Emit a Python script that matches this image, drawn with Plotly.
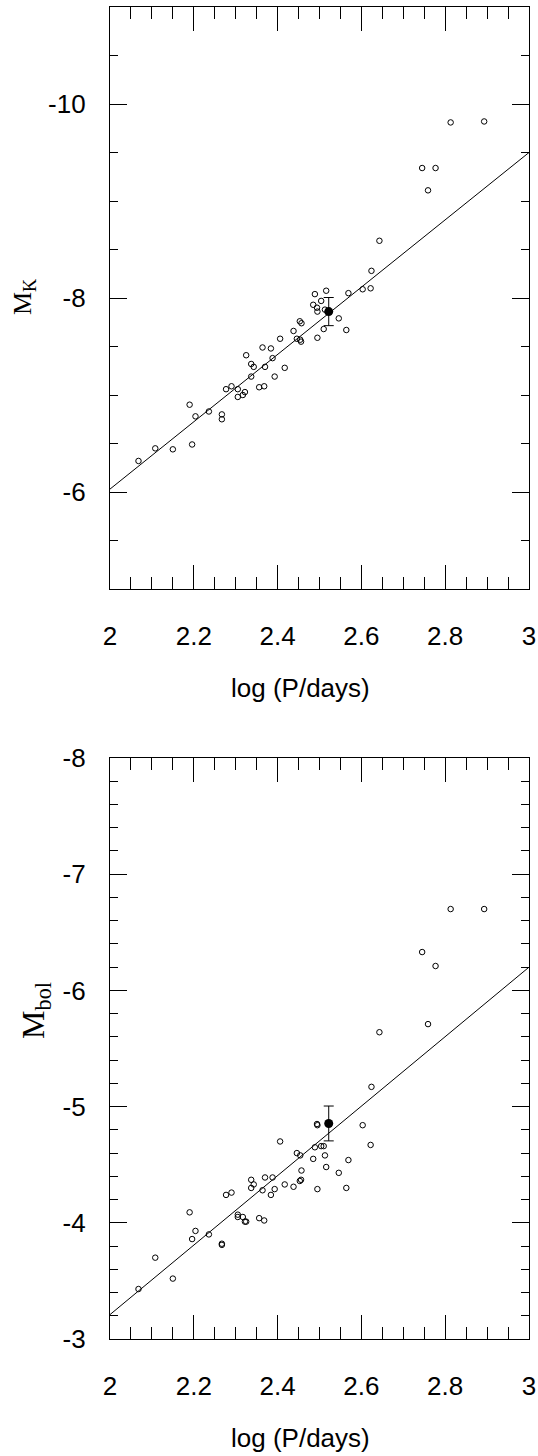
import plotly.graph_objects as go

# ---------------- data ----------------
log_p = [2.068, 2.108, 2.150, 2.196, 2.190, 2.204, 2.236, 2.267, 2.267, 2.277,
         2.290, 2.305, 2.305, 2.317, 2.322, 2.325, 2.337, 2.337, 2.343, 2.356,
         2.368, 2.364, 2.370, 2.384, 2.388, 2.393, 2.406, 2.417, 2.438, 2.446,
         2.453, 2.454, 2.456, 2.457, 2.485, 2.489, 2.494, 2.495, 2.495, 2.504,
         2.510, 2.513, 2.516, 2.546, 2.564, 2.569, 2.603, 2.622, 2.624, 2.643,
         2.745, 2.759, 2.777, 2.813, 2.893]
m_k = [-6.32, -6.45, -6.44, -6.49, -6.90, -6.78, -6.83, -6.80, -6.75, -7.06,
       -7.09, -7.06, -6.98, -7.00, -7.03, -7.41, -7.32, -7.19, -7.29, -7.08,
       -7.09, -7.49, -7.29, -7.48, -7.38, -7.19, -7.58, -7.28, -7.66, -7.58,
       -7.76, -7.57, -7.55, -7.74, -7.93, -8.04, -7.90, -7.86, -7.59, -7.97,
       -7.68, -7.88, -8.075, -7.79, -7.67, -8.05, -8.09, -8.10, -8.28, -8.59,
       -9.34, -9.11, -9.34, -9.81, -9.82]
m_bol = [-3.43, -3.70, -3.52, -3.86, -4.09, -3.93, -3.90, -3.82, -3.81, -4.24,
         -4.26, -4.07, -4.05, -4.05, -4.01, -4.01, -4.37, -4.30, -4.33, -4.04,
         -4.02, -4.28, -4.39, -4.24, -4.39, -4.29, -4.70, -4.33, -4.31, -4.60,
         -4.36, -4.58, -4.37, -4.45, -4.55, -4.65, -4.85, -4.84, -4.29, -4.66,
         -4.66, -4.58, -4.48, -4.43, -4.30, -4.54, -4.84, -4.67, -5.17, -5.64,
         -6.33, -5.71, -6.21, -6.70, -6.70]

# highlighted star with error bar
star_logp = [2.522]
star_mk = [-7.86]
star_mk_err = [0.145]
star_mbol = [-4.855]
star_mbol_err = [0.15]

# fitted period-luminosity relations: M = a + b * logP
fit_x = [2.0, 3.0]
fit_k = (0.91, -3.47)
fit_bol = (2.77, -2.99)

x_tick_vals = [2.0, 2.2, 2.4, 2.6, 2.8, 3.0]
x_tick_text = ["2", "2.2", "2.4", "2.6", "2.8", "3"]
yk_tick_vals = [-10, -8, -6]
yk_tick_text = ["-10", "-8", "-6"]
yb_tick_vals = [-8, -7, -6, -5, -4, -3]
yb_tick_text = ["-8", "-7", "-6", "-5", "-4", "-3"]

# ---------------- figure ----------------
W, H = 538, 1456
FONT = "Liberation Sans, Arial, sans-serif"
SERIF = "Liberation Serif, Times New Roman, serif"

fig = go.Figure()

open_marker = dict(symbol="circle-open", size=5.5, color="black", line=dict(width=1, color="black"))

for xa, ya, mags, fit, smag, serr in [("x", "y", m_k, fit_k, star_mk, star_mk_err),
                                      ("x2", "y2", m_bol, fit_bol, star_mbol, star_mbol_err)]:
    fig.add_trace(go.Scatter(x=fit_x, y=[fit[0] + fit[1] * v for v in fit_x], mode="lines",
                             line=dict(color="black", width=1), xaxis=xa, yaxis=ya,
                             showlegend=False, hoverinfo="skip"))
    fig.add_trace(go.Scatter(x=log_p, y=mags, mode="markers", marker=open_marker,
                             xaxis=xa, yaxis=ya, showlegend=False))
    fig.add_trace(go.Scatter(x=star_logp, y=smag, mode="markers",
                             marker=dict(symbol="circle", size=9, color="black"),
                             error_y=dict(type="data", array=serr, color="black", thickness=1, width=5),
                             xaxis=xa, yaxis=ya, showlegend=False))

def px_dom_x(a, b):
    return [a / W, b / W]

def px_dom_y(top, bottom):
    return [1 - bottom / H, 1 - top / H]

xcommon = dict(range=[2.0, 3.0], tickmode="array", tickvals=x_tick_vals, ticktext=x_tick_text,
               ticks="inside", ticklen=24, tickwidth=1, tickcolor="black",
               minor=dict(tickmode="linear", tick0=2.0, dtick=0.05, ticks="inside", ticklen=12,
                          tickwidth=1, tickcolor="black", showgrid=False),
               showline=True, linecolor="black", linewidth=1.2, mirror="ticks",
               showgrid=False, zeroline=False, automargin=False,
               ticklabeloverflow="allow",
               tickfont=dict(family=FONT, size=26, color="black"), ticklabelstandoff=24,
               domain=px_dom_x(110, 529))

ycommon = dict(ticks="inside", ticklen=17, tickwidth=1, tickcolor="black",
               showline=True, linecolor="black", linewidth=1.2, mirror="ticks",
               showgrid=False, zeroline=False, automargin=False,
               ticklabeloverflow="allow",
               tickfont=dict(family=FONT, size=26, color="black"), ticklabelstandoff=18,
               tickmode="array")

fig.update_layout(
    width=W, height=H,
    margin=dict(l=0, r=0, t=0, b=0),
    paper_bgcolor="white", plot_bgcolor="white",
    xaxis=dict(anchor="y", **xcommon),
    yaxis=dict(anchor="x", range=[-5, -11], tickvals=yk_tick_vals, ticktext=yk_tick_text,
               minor=dict(tickmode="linear", tick0=-5, dtick=0.5, ticks="inside", ticklen=8,
                          tickwidth=1, tickcolor="black", showgrid=False),
               domain=px_dom_y(7, 589), **ycommon),
    xaxis2=dict(anchor="y2", **xcommon),
    yaxis2=dict(anchor="x2", range=[-3, -8], tickvals=yb_tick_vals, ticktext=yb_tick_text,
                minor=dict(tickmode="linear", tick0=-3, dtick=0.2, ticks="inside", ticklen=8,
                           tickwidth=1, tickcolor="black", showgrid=False),
                domain=px_dom_y(758, 1339), **ycommon),
    showlegend=False,
)

annots = [
    dict(text="log (P/days)", x=300 / W, y=1 - 688 / H, font=dict(family=FONT, size=26)),
    dict(text="log (P/days)", x=300 / W, y=1 - 1438 / H, font=dict(family=FONT, size=26)),
    dict(text="M<sub>K</sub>", x=24 / W, y=1 - 297 / H, textangle=-90,
         font=dict(family=SERIF, size=26)),
    dict(text="M<sub>bol</sub>", x=35 / W, y=1 - 1011 / H, textangle=-90,
         font=dict(family=SERIF, size=32)),
]
for a in annots:
    a["font"]["color"] = "black"
    fig.add_annotation(xref="paper", yref="paper", showarrow=False,
                       xanchor="center", yanchor="middle", **a)

fig.write_html("out.html",
               config={"displayModeBar": False},
               post_script="document.body.style.margin='0';document.body.style.overflow='hidden';")
